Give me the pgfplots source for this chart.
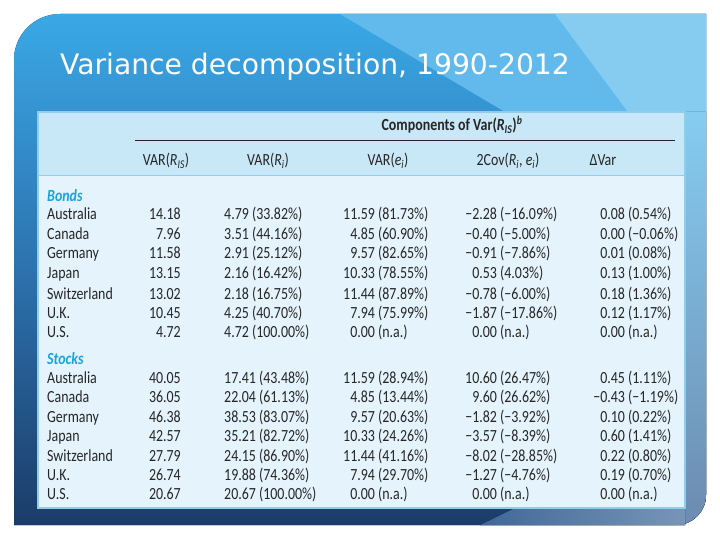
\documentclass[border=0pt]{standalone}
\usepackage{pgfplots}
\pgfplotsset{compat=1.18}
\usepackage{fontspec}
\setmainfont[FakeStretch=0.82]{Carlito}
\newfontfamily\titlefont{DejaVu Sans}
\definecolor{slidetop}{HTML}{3AA8E6}
\definecolor{slidemid}{HTML}{2C72AE}
\definecolor{slidebot}{HTML}{1B3C68}
\definecolor{paneA}{HTML}{62BAEC}
\definecolor{paneB}{HTML}{86CCF1}
\definecolor{stripmid}{HTML}{5E9FD0}
\definecolor{stripbot}{HTML}{6C8BB0}
\definecolor{bandA}{HTML}{3F6896}
\definecolor{bandB}{HTML}{7895B8}
\definecolor{tablebg}{HTML}{E4F3FC}
\definecolor{headbg}{HTML}{C8E8F8}
\definecolor{tableline}{HTML}{8FCDEB}
\definecolor{textgray}{HTML}{262626}
\definecolor{groupblue}{HTML}{1BA3DD}

\newcommand{\cell}[2]{\llap{#1}\rlap{\ (#2)}}
\newcommand{\sub}[1]{\textsubscript{\textit{#1}}}

\pgfplotsset{
  txt/.style={draw=none, mark=none, point meta=explicit symbolic,
    nodes near coords,
    every node near coord/.style={anchor=#1, inner sep=0pt,
      font=\fontsize{17bp}{19bp}\selectfont, text=textgray}},
}

\begin{document}
\begin{tikzpicture}
\begin{axis}[
  width=720bp, height=540bp, scale only axis,
  xmin=0, xmax=720, ymin=0, ymax=540, y dir=reverse,
  axis lines=none, clip=false,
]
% slide background
\fill[white] (axis cs:0,0) rectangle (axis cs:720,540);
\fill[top color=slidetop, bottom color=slidebot, middle color=slidemid]
  (axis cs:14,60) arc[start angle=180, end angle=90, radius=46bp]
  -- (axis cs:706,14) -- (axis cs:706,495)
  arc[start angle=0, end angle=-90, radius=30bp]
  -- (axis cs:14,525) -- cycle;
\fill[paneA] (axis cs:340,14) -- (axis cs:706,14) -- (axis cs:706,112) -- (axis cs:505,112) -- cycle;
\fill[paneB] (axis cs:555,14) -- (axis cs:706,14) -- (axis cs:706,112) -- (axis cs:628,112) -- cycle;
% right strip
\fill[top color=paneB, middle color=stripmid, bottom color=stripbot]
  (axis cs:685,112) -- (axis cs:706,112) -- (axis cs:706,495)
  arc[start angle=0, end angle=-90, radius=30bp] -- (axis cs:685,525) -- cycle;
% bottom band, lighter on the right
\fill[left color=bandA, right color=bandB]
  (axis cs:480,525) -- (axis cs:515,508) -- (axis cs:685,508) -- (axis cs:685,525) -- cycle;
% title
\node[anchor=base west, text=white, inner sep=0pt, font=\titlefont\fontsize{28.2bp}{32bp}\selectfont]
  at (axis cs:60,75) {Variance decomposition, 1990-2012};
% table frame
\fill[tablebg] (axis cs:38,112) rectangle (axis cs:685,508);
\fill[headbg] (axis cs:38,112) rectangle (axis cs:685,176);
\draw[tableline, line width=1bp] (axis cs:38,176) -- (axis cs:685,176);
\draw[tableline, line width=1.2bp] (axis cs:38,112) rectangle (axis cs:685,508);
\draw[textgray, line width=0.8bp] (axis cs:135,140) -- (axis cs:675,140);
\node[anchor=base, inner sep=0pt, text=textgray, font=\fontsize{17bp}{19bp}\selectfont\bfseries]
  at (axis cs:452,131) {Components of Var(\textit{R}\sub{IS})\textsuperscript{\textit{b}}};

% column headers
\addplot[txt=base] coordinates {
  (166,166) [VAR(\textit{R}\sub{IS})]
  (268,166) [VAR(\textit{R}\sub{i})]
  (388,166) [VAR(\textit{e}\sub{i})]
  (508,166) [2Cov(\textit{R}\sub{i}, \textit{e}\sub{i})]
  (603,166) [ΔVar]
};

% group labels
\addplot[txt=base west, every node near coord/.append style={text=groupblue, font=\fontsize{17bp}{19bp}\selectfont\bfseries\itshape}] coordinates {
  (47,202) [Bonds]
  (47,364) [Stocks]
};

% countries
\addplot[txt=base west] coordinates {
  (47,220) [Australia] (47,240) [Canada] (47,259) [Germany] (47,279) [Japan]
  (47,299) [Switzerland] (47,318) [U.K.] (47,337) [U.S.]
  (47,383) [Australia] (47,402) [Canada] (47,422) [Germany] (47,441) [Japan]
  (47,461) [Switzerland] (47,480) [U.K.] (47,499) [U.S.]
};

% VAR(R_IS)
\addplot[txt=base east] coordinates {
  (181,220) [14.18] (181,240) [7.96] (181,259) [11.58] (181,279) [13.15]
  (181,299) [13.02] (181,318) [10.45] (181,337) [4.72]
  (181,383) [40.05] (181,402) [36.05] (181,422) [46.38] (181,441) [42.57]
  (181,461) [27.79] (181,480) [26.74] (181,499) [20.67]
};

% VAR(R_i)
\addplot[txt=base west] coordinates {
  (224,220) [4.79 (33.82\%)] (224,240) [3.51 (44.16\%)] (224,259) [2.91 (25.12\%)]
  (224,279) [2.16 (16.42\%)] (224,299) [2.18 (16.75\%)] (224,318) [4.25 (40.70\%)]
  (224,337) [4.72 (100.00\%)]
  (224,383) [17.41 (43.48\%)] (224,402) [22.04 (61.13\%)] (224,422) [38.53 (83.07\%)]
  (224,441) [35.21 (82.72\%)] (224,461) [24.15 (86.90\%)] (224,480) [19.88 (74.36\%)]
  (224,499) [20.67 (100.00\%)]
};

% VAR(e_i)
\addplot[txt=base] coordinates {
  (375,220) [\cell{11.59}{81.73\%}] (375,240) [\cell{4.85}{60.90\%}] (375,259) [\cell{9.57}{82.65\%}]
  (375,279) [\cell{10.33}{78.55\%}] (375,299) [\cell{11.44}{87.89\%}] (375,318) [\cell{7.94}{75.99\%}]
  (375,337) [\cell{0.00}{n.a.}]
  (375,383) [\cell{11.59}{28.94\%}] (375,402) [\cell{4.85}{13.44\%}] (375,422) [\cell{9.57}{20.63\%}]
  (375,441) [\cell{10.33}{24.26\%}] (375,461) [\cell{11.44}{41.16\%}] (375,480) [\cell{7.94}{29.70\%}]
  (375,499) [\cell{0.00}{n.a.}]
};

% 2Cov(R_i, e_i)
\addplot[txt=base] coordinates {
  (497,220) [\cell{−2.28}{−16.09\%}] (497,240) [\cell{−0.40}{−5.00\%}] (497,259) [\cell{−0.91}{−7.86\%}]
  (497,279) [\cell{0.53}{4.03\%}] (497,299) [\cell{−0.78}{−6.00\%}] (497,318) [\cell{−1.87}{−17.86\%}]
  (497,337) [\cell{0.00}{n.a.}]
  (497,383) [\cell{10.60}{26.47\%}] (497,402) [\cell{9.60}{26.62\%}] (497,422) [\cell{−1.82}{−3.92\%}]
  (497,441) [\cell{−3.57}{−8.39\%}] (497,461) [\cell{−8.02}{−28.85\%}] (497,480) [\cell{−1.27}{−4.76\%}]
  (497,499) [\cell{0.00}{n.a.}]
};

% Delta Var
\addplot[txt=base] coordinates {
  (625,220) [\cell{0.08}{0.54\%}] (625,240) [\cell{0.00}{−0.06\%}] (625,259) [\cell{0.01}{0.08\%}]
  (625,279) [\cell{0.13}{1.00\%}] (625,299) [\cell{0.18}{1.36\%}] (625,318) [\cell{0.12}{1.17\%}]
  (625,337) [\cell{0.00}{n.a.}]
  (625,383) [\cell{0.45}{1.11\%}] (625,402) [\cell{−0.43}{−1.19\%}] (625,422) [\cell{0.10}{0.22\%}]
  (625,441) [\cell{0.60}{1.41\%}] (625,461) [\cell{0.22}{0.80\%}] (625,480) [\cell{0.19}{0.70\%}]
  (625,499) [\cell{0.00}{n.a.}]
};
\end{axis}
\end{tikzpicture}
\end{document}
